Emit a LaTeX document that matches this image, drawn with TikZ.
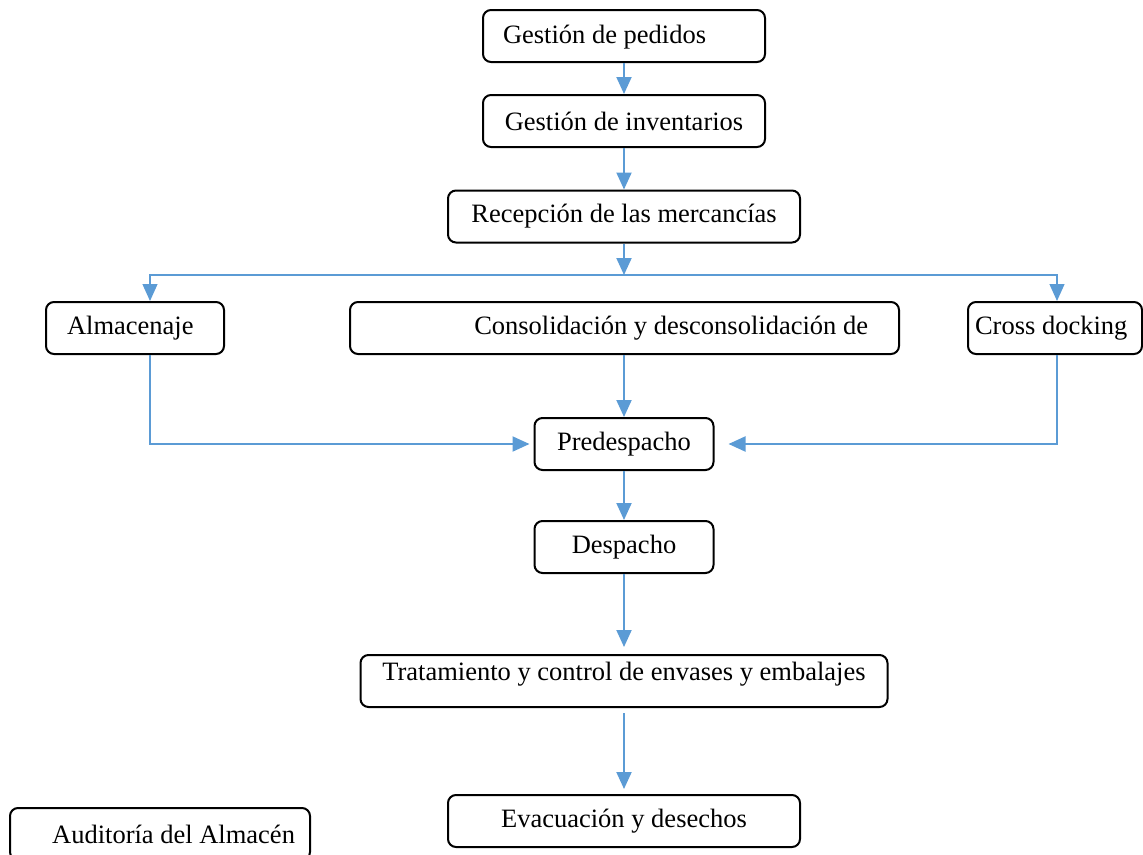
\documentclass[tikz,border=0pt]{standalone}
\usepackage{fontspec}
\setmainfont{Liberation Serif}
\usetikzlibrary{arrows.meta}
\definecolor{azul}{HTML}{5B9BD5}

\begin{document}
\begin{tikzpicture}[x=1pt,y=-1pt,
  caja/.style={draw,line width=2pt,rounded corners=8pt,minimum height=52,inner ysep=0pt,
    font=\fontsize{26.5}{31}\selectfont},
  flecha/.style={draw=azul,line width=2pt,-{Triangle[width=15pt,length=17pt]}},
  rama/.style={draw=azul,line width=1.3pt,-{Triangle[width=15pt,length=17pt]}}]
\useasboundingbox (0,0) rectangle (1143,854);
\clip (0,0) rectangle (1143,854);
% cajas
\node[caja,minimum width=282,text width=242,inner xsep=20,align=flush left,text depth=4] (pedidos) at (624,36) {Gestión de pedidos};
\node[caja,minimum width=282] (inventarios) at (624,121) {Gestión de inventarios};
\node[caja,minimum width=352] (recepcion) at (624,216.5) {Recepción de las mercancías};
\node[caja,minimum width=178,text width=136,inner xsep=21,align=flush left] (almacenaje) at (135,328) {Almacenaje};
\node[caja,minimum width=549,text width=487,inner xsep=31,align=flush right] (consolidacion) at (624.5,328) {Consolidación y desconsolidación de};
\node[caja,minimum width=174,text width=160,inner xsep=7,align=flush left] (crossdocking) at (1055,328) {Cross docking};
\node[caja,minimum width=179] (predespacho) at (624,444) {Predespacho};
\node[caja,minimum width=179] (despacho) at (624,547) {Despacho};
\node[caja,minimum width=527,text height=18,text depth=20] (tratamiento) at (624,681) {Tratamiento y control de envases y embalajes};
\node[caja,minimum width=352] (evacuacion) at (624,821) {Evacuación y desechos};
\node[caja,minimum width=300,text width=270,inner xsep=15,align=flush right] (auditoria) at (160,834) {Auditoría del Almacén};
\coordinate (reparto) at (624,275);
% flechas
\draw[flecha] (pedidos) -- (inventarios);
\draw[flecha] (inventarios) -- (recepcion);
\draw[flecha] (recepcion) -- (reparto);
\draw[rama] (reparto) -| ([xshift=15]almacenaje.north);
\draw[rama] (reparto) -| ([xshift=2]crossdocking.north);
\draw[flecha] (consolidacion.south -| predespacho) -- (predespacho);
\draw[flecha,shorten >=4pt] ([xshift=15]almacenaje.south) |- (predespacho.west);
\draw[flecha,shorten >=14pt] ([xshift=2]crossdocking.south) |- (predespacho.east);
\draw[flecha] (predespacho) -- (despacho);
\draw[flecha,shorten >=7pt] (despacho) -- (tratamiento);
\draw[flecha,shorten <=5pt,shorten >=5pt] (tratamiento) -- (evacuacion);
\end{tikzpicture}
\end{document}
